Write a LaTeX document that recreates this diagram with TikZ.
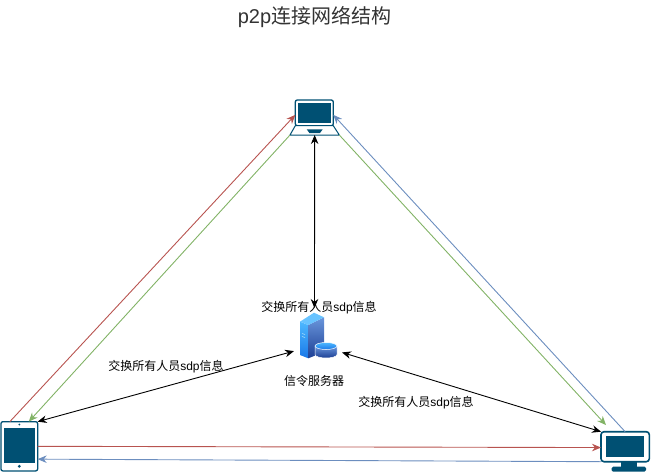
\documentclass[tikz,border=0pt]{standalone}
\usepackage{fontspec}
\usepackage{tikz}
\usetikzlibrary{positioning,arrows.meta,calc}
\setmainfont{Liberation Sans}
\newfontfamily\cjk{Noto Sans CJK SC}
\definecolor{iconblue}{HTML}{005073}
\definecolor{linkred}{HTML}{B85450}
\definecolor{linkgreen}{HTML}{82B366}
\definecolor{linkblue}{HTML}{6C8EBF}
\definecolor{towerlight}{HTML}{4DB8FF}
\definecolor{towermid}{HTML}{1A78E8}
\definecolor{towerside}{HTML}{6A96DC}
\definecolor{towerdark}{HTML}{1C3F94}
\newcommand{\swaplabel}{{\cjk 交换所有人员}sdp{\cjk 信息}}
\tikzset{
  device/.style={draw=iconblue,line width=1.3pt,fill=white,rounded corners=2pt,inner sep=0pt,outer sep=0pt},
  panel/.style={fill=iconblue,inner sep=0pt,outer sep=0pt},
  redlink/.style={linkred,line width=0.9pt},
  greenlink/.style={linkgreen,line width=0.9pt},
  bluelink/.style={linkblue,line width=0.9pt},
  swap/.style={<->,black,line width=0.9pt},
  caption/.style={font=\fontsize{12}{14}\selectfont},
}

\begin{document}
\begin{tikzpicture}[
  x=1pt,y=-1pt,
  >={Stealth[length=9pt,width=7.5pt]},
]
\useasboundingbox (0,0) rectangle (651,472);

\node[font=\fontsize{20}{24}\selectfont,text=black!80] (title) at (314.5,17) {p2p{\cjk 连接网络结构}};

% devices
\node[device,minimum width=38pt,minimum height=25.7pt] (laptop) at (314.3,112.85) {};
\node[panel,minimum width=33.3pt,minimum height=20pt] (laptopscreen) at (laptop.center) {};
\node[minimum width=49.3pt,minimum height=9.3pt,inner sep=0pt,outer sep=0pt] (laptopbase) at (314.65,130.35) {};
\draw[draw=iconblue,line width=1pt,fill=white,line join=round]
  (laptop.south west) -- (laptop.south east) -- (laptopbase.south east)
  -- (laptopbase.south west) -- cycle;
\fill[iconblue] (306.7,129.3) -- (322.7,129.3) -- (320,133) -- (309.4,133) -- cycle;

\node[device,minimum width=36.7pt,minimum height=49.3pt] (tablet) at (19.3,446.3) {};
\node[panel,minimum width=30.7pt,minimum height=35pt] (tabletscreen) at (19.3,445.2) {};
\fill[iconblue] (19.3,424.5) circle (1pt) (19.3,466.3) circle (1.6pt);

\node[device,line width=1.6pt,rounded corners=3pt,minimum width=48.3pt,minimum height=30pt] (monitor) at (625.15,446.7) {};
\node[panel,minimum width=38.3pt,minimum height=21.3pt] (monitorscreen) at (monitor.center) {};
\fill[iconblue] (621,461.7) rectangle (637,467);
\fill[iconblue,rounded corners=1.5pt] (611.7,466.7) rectangle (646,471.7);

% server
\node[inner sep=0pt,outer sep=0pt,minimum width=48pt,minimum height=50pt] (server) at (318,333) {};
\shade[top color=towerlight,bottom color=towermid] (300,321.7) -- (308.3,325) -- (308.3,358.3) -- (300,355) -- cycle;
\shade[top color=towerside,bottom color=towerdark] (308.3,325) -- (324,317.3) -- (324,352) -- (308.3,358.3) -- cycle;
\fill[towerlight!85!white] (300,321.7) -- (314,312.7) -- (324,317.3) -- (308.3,325) -- cycle;
\draw[white!70!cyan,line width=0.5pt] (302,333.5) -- (305,334.5) (302,336.5) -- (305,337.5);
\shade[top color=towerside,bottom color=towerdark,draw=white,line width=0.5pt]
  (315,346) -- (315,354.5) arc[start angle=180,end angle=360,x radius=11pt,y radius=3.5pt] -- (337,346) -- cycle;
\shade[top color=towerlight,bottom color=towermid,draw=white,line width=0.5pt]
  (326,346) ellipse[x radius=11pt,y radius=3.5pt];

\path
(tablet.111) edge[->,redlink] (laptop.186)
(laptopbase.south west) edge[->,greenlink] (tablet.69)

(monitor.north) edge[->,bluelink] (laptop.-6)
(laptopbase.south east) edge[->,greenlink,shorten >=9pt] (monitor.131)

(tablet.east) edge[->,redlink] (monitor.182)
(monitor.south west) edge[->,bluelink] (tablet.-35)

(laptopbase.south) edge[swap] (server.98.4)
(tablet.north east) edge[swap] (server.217.9)
(monitor.north west) edge[swap] (server.-39.7);

\node[caption] (laptoplabel) at (319,308) {\swaplabel};
\node[caption] (tabletlabel) at (166,367) {\swaplabel};
\node[caption] (monitorlabel) at (416,403) {\swaplabel};
\node[caption,below=14pt of server,xshift=-4pt] (serverlabel) {\cjk 信令服务器};

\end{tikzpicture}
\end{document}
